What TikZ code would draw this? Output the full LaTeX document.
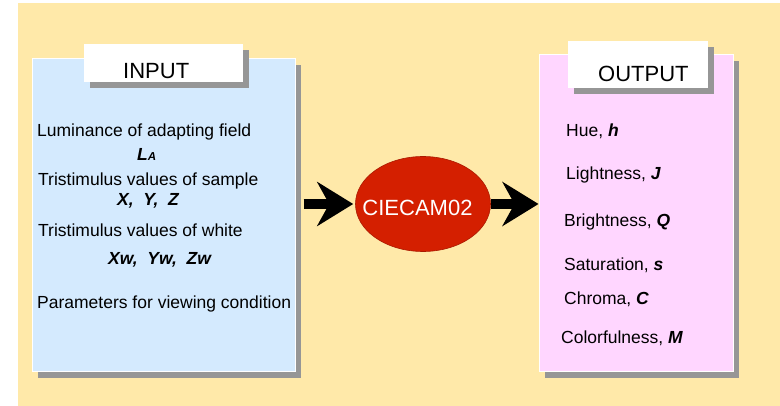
\documentclass[tikz,border=0pt]{standalone}
\usepackage{fontspec}
\setmainfont{Liberation Sans}
\usetikzlibrary{positioning,calc,shapes.geometric,shadows,arrows.meta}
\definecolor{bgyellow}{HTML}{FFE9A9}
\definecolor{inblue}{HTML}{D4EAFE}
\definecolor{outpink}{HTML}{FFD6FF}
\definecolor{camred}{HTML}{D41F00}
\definecolor{shadowgray}{HTML}{969696}
\newcommand{\bi}[1]{\textbf{\textit{#1}}}
\begin{document}
\begin{tikzpicture}[x=1pt,y=-1pt]
    \tikzstyle{panel}=[rectangle,draw=white,line width=1,inner sep=0,
        drop shadow={shadow xshift=6pt,shadow yshift=-6pt,fill=shadowgray,opacity=1}]
    \tikzstyle{tab}=[panel,fill=white,draw=none]
    \tikzstyle{title}=[anchor=base west,inner sep=0,font=\fontsize{22}{26}\selectfont]
    \tikzstyle{txt}=[anchor=base west,inner sep=0,font=\fontsize{17.5}{21}\selectfont]
    \tikzstyle{fat}=[line width=10,-{Stealth[length=36pt,width=44pt,inset=12pt]}]
    \useasboundingbox (0,0) rectangle (780,406);
    \fill[bgyellow] (18,3) rectangle (780,406);
    {
        % input side
        \node[panel,fill=inblue,minimum width=263,minimum height=313] (inpanel) at (163.5,215.5) {};
        \node[tab,minimum width=159,minimum height=38] (intab) at (163.5,63) {};
        \node[title] (intitle) at (123,79) {INPUT};
        \node[txt] (lum) at (37,137) {Luminance of adapting field};
        \node[txt] (la) at (137,161) {\bi{L{\fontsize{11.5}{12}\selectfont\raisebox{0.15ex}{A}}}};
        \node[txt] (samp) at (38,186) {Tristimulus values of sample};
        \node[txt] (xyz) at (117,206) {\bi{X,\ \ Y,\ \ Z}};
        \node[txt] (white) at (38,237) {Tristimulus values of white};
        \node[txt] (xyzw) at (108,265) {\bi{Xw,\ \ Yw,\ \ Zw}};
        \node[txt] (param) at (37,309) {Parameters for viewing condition};

        % output side
        \node[panel,fill=outpink,minimum width=194,minimum height=317] (outpanel) at (636,213.5) {};
        \node[tab,minimum width=140,minimum height=47] (outtab) at (638,64.5) {};
        \node[title] (outtitle) at (598,82) {OUTPUT};
        \node[txt] (hue) at (566,137) {Hue, \bi{h}};
        \node[txt] (light) at (566,180) {Lightness, \bi{J}};
        \node[txt] (bright) at (564,227) {Brightness, \bi{Q}};
        \node[txt] (sat) at (564,271) {Saturation, \bi{s}};
        \node[txt] (chroma) at (564,305) {Chroma, \bi{C}};
        \node[txt] (colorf) at (561,344) {Colorfulness, \bi{M}};

        % model
        \node[ellipse,fill=camred,draw=camred!80!black,line width=0.6,minimum width=135,minimum height=95,
            text=white,font=\fontsize{22}{26}\selectfont,inner sep=0] (cam) at (423,204)
            {\makebox[0pt]{\raisebox{-1.0ex}[0pt][0pt]{CIECAM02\hspace{11pt}}}};

        \draw[fat,shorten <=8,shorten >=2] (inpanel.east |- cam.west) -- (cam.west);
        \draw[fat] (cam.east) -- (outpanel.west |- cam.east);
    }
\end{tikzpicture}
\end{document}
